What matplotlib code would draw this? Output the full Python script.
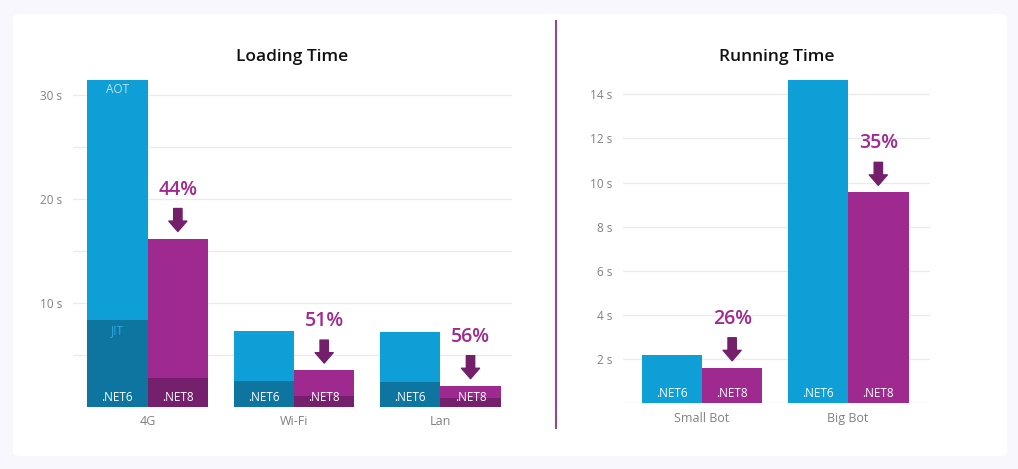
import numpy as np
import matplotlib
matplotlib.use("Agg")
import matplotlib.pyplot as plt
from matplotlib.patches import FancyBboxPatch
from matplotlib.lines import Line2D
import matplotlib.transforms as mtransforms

plt.rcParams['font.family'] = ['Open Sans', 'DejaVu Sans']

# data (seconds)
load_categories = ['4G', 'Wi-Fi', 'Lan']
load_net6_total = [31.4, 7.3, 7.25]
load_net6_base = [8.4, 2.5, 2.4]
load_net8_total = [16.2, 3.55, 2.05]
load_net8_base = [2.8, 1.05, 0.9]
load_gain = ['44%', '51%', '56%']

run_categories = ['Small Bot', 'Big Bot']
run_net6 = [2.19, 14.65]
run_net8 = [1.61, 9.56]
run_gain = ['26%', '35%']

# colours
BLUE = '#0e9fd6'
BLUE_DARK = '#0d75a0'
PURPLE = '#9e2a8f'
PURPLE_DARK = '#75206c'
ARROW = '#741f6a'
PCT = '#a02a92'
GRID = '#ebebeb'
TICK = '#808080'

W, H = 1018, 469
fig = plt.figure(figsize=(W / 100, H / 100), dpi=100)
fig.patch.set_facecolor('#f7f7fd')

# white card
card = FancyBboxPatch((13 / W, 1 - 456 / H), (1007 - 13) / W, (456 - 14) / H,
                      boxstyle='round,pad=0,rounding_size=0.009',
                      transform=fig.transFigure, facecolor='white',
                      edgecolor='none', zorder=-10)
fig.patches.append(card)
fig.lines.append(Line2D([555.5 / W, 555.5 / W], [1 - 21 / H, 1 - 428 / H],
                        transform=fig.transFigure, color='#8c4a8f', lw=1.5, zorder=-5))

bw = 0.413


def style_axes(ax, title):
    ax.set_facecolor('none')
    for s in ax.spines.values():
        s.set_visible(False)
    ax.tick_params(axis='both', which='both', length=0)
    ax.tick_params(axis='y', labelsize=8.5, labelcolor=TICK, pad=8)
    ax.tick_params(axis='x', labelsize=9, labelcolor=TICK, pad=6)
    ax.grid(axis='y', which='both', color=GRID, lw=1)
    ax.set_axisbelow(True)
    ax.set_title(title, fontsize=12.5, fontweight='semibold', color='#111111', pad=14)


def gain_marker(ax, x, top, label):
    tr = mtransforms.offset_copy(ax.transData, fig=fig, x=0, y=7, units='dots')
    ax.annotate('', xy=(x, top), xycoords=tr, xytext=(0, 23),
                textcoords='offset pixels',
                arrowprops=dict(arrowstyle='simple,head_length=0.75,head_width=1.3,tail_width=0.6',
                                mutation_scale=10, color=ARROW, shrinkA=0, shrinkB=0))
    ax.annotate(label, xy=(x, top), xytext=(0, 49), textcoords='offset pixels',
                ha='center', va='center', fontsize=14, fontweight='semibold', color=PCT)


# ---- Loading Time ----
ax1 = fig.add_axes([73 / W, 62 / H, (512 - 73) / W, (407 - 80) / H])
style_axes(ax1, 'Loading Time')
x = np.arange(len(load_categories))
x6 = x - bw / 2
x8 = x + bw / 2
top6 = np.array(load_net6_total) - np.array(load_net6_base)
top8 = np.array(load_net8_total) - np.array(load_net8_base)
ax1.bar(x6, load_net6_base, bw, color=BLUE_DARK)
ax1.bar(x6, top6, bw, bottom=load_net6_base, color=BLUE)
ax1.bar(x8, load_net8_base, bw, color=PURPLE_DARK)
ax1.bar(x8, top8, bw, bottom=load_net8_base, color=PURPLE)
ax1.set_xlim(-0.51, 2.49)
ax1.set_ylim(0, 31.44)
ax1.set_yticks([10, 20, 30])
ax1.set_yticks([5, 15, 25], minor=True)
ax1.set_yticklabels(['10 s', '20 s', '30 s'])
ax1.set_xticks(x)
ax1.set_xticklabels(load_categories)
for i in range(len(x)):
    ax1.annotate('.NET6', (x6[i], 0), xytext=(0, 10), textcoords='offset pixels',
                 ha='center', va='center', color='white', fontsize=8.5)
    ax1.annotate('.NET8', (x8[i], 0), xytext=(0, 10), textcoords='offset pixels',
                 ha='center', va='center', color='white', fontsize=8.5)
    gain_marker(ax1, x8[i], load_net8_total[i], load_gain[i])
ax1.annotate('AOT', (x6[0], load_net6_total[0]), xytext=(0, -9), textcoords='offset pixels',
             ha='center', va='center', color='#b8e3f4', fontsize=8.5)
ax1.annotate('JIT', (x6[0], load_net6_base[0]), xytext=(0, -11), textcoords='offset pixels',
             ha='center', va='center', color='#2ba9de', fontsize=8.5)

# ---- Running Time ----
ax2 = fig.add_axes([623 / W, (469 - 403.3) / H, (930 - 623) / W, (403.3 - 80) / H])
style_axes(ax2, 'Running Time')
xr = np.arange(len(run_categories))
xr6 = xr - bw / 2
xr8 = xr + bw / 2
ax2.bar(xr6, run_net6, bw, color=BLUE)
ax2.bar(xr8, run_net8, bw, color=PURPLE)
ax2.set_xlim(-0.54, 1.56)
ax2.set_ylim(0, 14.65)
ax2.set_yticks([0, 2, 4, 6, 8, 10, 12, 14])
ax2.set_yticklabels(['', '2 s', '4 s', '6 s', '8 s', '10 s', '12 s', '14 s'])
ax2.set_xticks(xr)
ax2.set_xticklabels(run_categories)
for i in range(len(xr)):
    ax2.annotate('.NET6', (xr6[i], 0), xytext=(0, 10), textcoords='offset pixels',
                 ha='center', va='center', color='white', fontsize=8.5)
    ax2.annotate('.NET8', (xr8[i], 0), xytext=(0, 10), textcoords='offset pixels',
                 ha='center', va='center', color='white', fontsize=8.5)
    gain_marker(ax2, xr8[i], run_net8[i], run_gain[i])

fig.savefig('out.png', dpi=100, facecolor=fig.get_facecolor())
